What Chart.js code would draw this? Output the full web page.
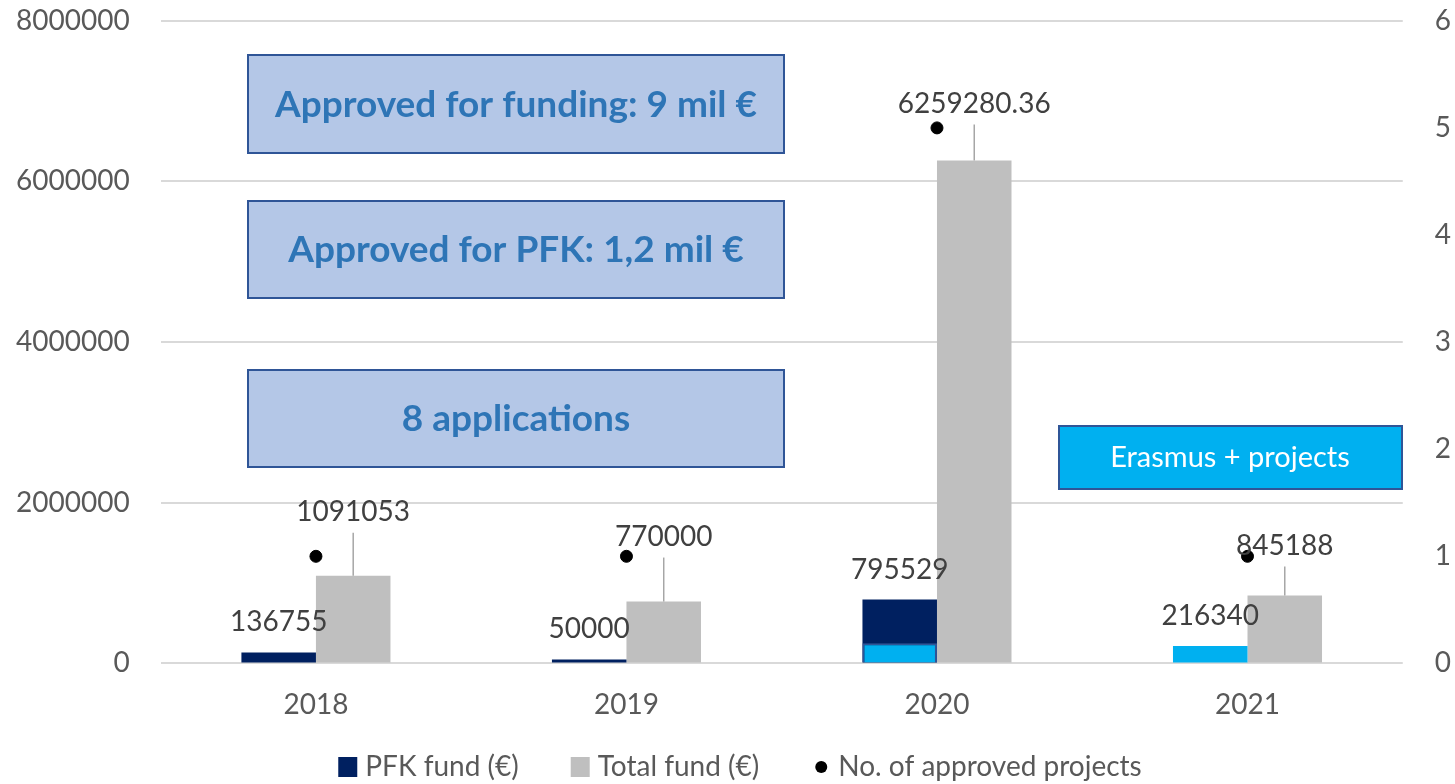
<!DOCTYPE html>
<html>
<head>
<meta charset="utf-8">
<script src="https://cdn.jsdelivr.net/npm/chart.js@4.4.1/dist/chart.umd.min.js"></script>
<style>
  html, body { margin: 0; padding: 0; background: #fff; }
  canvas { display: block; }
</style>
</head>
<body>
<canvas id="grafico" width="1455" height="784"></canvas>
<script>
const anios = ['2018', '2019', '2020', '2021'];
const fondoPFK = [136755, 50000, 795529, 216340];
const fondoTotal = [1091053, 770000, 6259280.36, 845188];
const erasmus = [null, null, 250000, null];
const proyectosAprobados = [1, 1, 5, 1];
const ticksIzq = [0, 2000000, 4000000, 6000000, 8000000];
const ticksDer = [0, 1, 2, 3, 4, 5, 6];

const NAVY = '#002060';
const CELESTE = '#00B0F0';
const GRIS = '#BFBFBF';
const FUENTE = 'Lato, "Open Sans", sans-serif';

// cuanto sube cada etiqueta del total (como en el original, colocadas a mano)
const subidaTotal = [64, 65, 57, 50];

const cuadros = [
    { texto: 'Approved for funding: 9 mil €', x0: 248, x1: 784, y0: 55, y1: 153 },
    { texto: 'Approved for PFK: 1,2 mil €', x0: 248, x1: 784, y0: 201, y1: 298 },
    { texto: '8 applications', x0: 248, x1: 784, y0: 370, y1: 467 }
];

const leyenda = [
    { texto: 'PFK fund (€)', color: NAVY, tipo: 'rect' },
    { texto: 'Total fund (€)', color: GRIS, tipo: 'rect' },
    { texto: 'No. of approved projects', color: '#000', tipo: 'punto' }
];

const etiquetasPlugin = {
    id: 'etiquetas',
    afterDatasetsDraw(chart) {
        const ctx = chart.ctx;
        ctx.save();
        ctx.font = '28px ' + FUENTE;
        ctx.fillStyle = '#404040';
        ctx.textAlign = 'center';
        ctx.textBaseline = 'middle';

        const metaPFK = chart.getDatasetMeta(1);
        metaPFK.data.forEach((bar, i) => {
            ctx.fillText(String(fondoPFK[i]), bar.x, bar.y - 30);
        });

        const metaTotal = chart.getDatasetMeta(2);
        metaTotal.data.forEach((bar, i) => {
            const yTexto = bar.y - subidaTotal[i];
            ctx.strokeStyle = '#A6A6A6';
            ctx.lineWidth = 1.5;
            ctx.beginPath();
            ctx.moveTo(bar.x, bar.y);
            ctx.lineTo(bar.x, yTexto + 21);
            ctx.stroke();
            ctx.fillText(String(fondoTotal[i]), bar.x, yTexto);
        });
        ctx.restore();
    },
    afterDraw(chart) {
        const ctx = chart.ctx;
        ctx.save();
        ctx.textAlign = 'center';
        ctx.textBaseline = 'middle';
        cuadros.forEach(c => {
            ctx.fillStyle = '#B4C7E7';
            ctx.fillRect(c.x0, c.y0, c.x1 - c.x0, c.y1 - c.y0);
            ctx.strokeStyle = '#2F5597';
            ctx.lineWidth = 2;
            ctx.strokeRect(c.x0, c.y0, c.x1 - c.x0, c.y1 - c.y0);
            ctx.fillStyle = '#2E75B6';
            ctx.font = 'bold 37px ' + FUENTE;
            ctx.fillText(c.texto, (c.x0 + c.x1) / 2, (c.y0 + c.y1) / 2 + 1);
        });
        // cuadro Erasmus
        ctx.fillStyle = CELESTE;
        ctx.fillRect(1059, 426, 343, 63);
        ctx.strokeStyle = '#2F5597';
        ctx.lineWidth = 2;
        ctx.strokeRect(1059, 426, 343, 63);
        ctx.fillStyle = '#fff';
        ctx.font = '29px ' + FUENTE;
        ctx.fillText('Erasmus + projects', 1230, 458);

        // leyenda propia
        ctx.font = '28px ' + FUENTE;
        ctx.textAlign = 'left';
        const anchos = leyenda.map(l => 27 + ctx.measureText(l.texto).width);
        const total = anchos.reduce((a, b) => a + b, 0) + 52 * (leyenda.length - 1);
        let x = 740 - total / 2;
        const yL = 767;
        leyenda.forEach((l, i) => {
            ctx.fillStyle = l.color;
            if (l.tipo === 'rect') {
                ctx.fillRect(x, yL - 10, 19, 20);
            } else {
                ctx.beginPath();
                ctx.arc(x + 10, yL, 6, 0, Math.PI * 2);
                ctx.fill();
            }
            ctx.fillStyle = '#595959';
            ctx.fillText(l.texto, x + 27, yL);
            x += anchos[i] + 52;
        });
        ctx.restore();
    }
};

const ctx = document.getElementById('grafico').getContext('2d');
new Chart(ctx, {
    data: {
        labels: anios,
        datasets: [
            {
                type: 'bar',
                label: 'Erasmus',
                data: erasmus,
                backgroundColor: CELESTE,
                borderColor: '#2F5597',
                borderWidth: 2,
                stack: 'pfk',
                yAxisID: 'y',
                order: 1,
                categoryPercentage: 0.48,
                barPercentage: 1
            },
            {
                type: 'bar',
                label: 'PFK fund (€)',
                data: fondoPFK,
                backgroundColor: fondoPFK.map((v, i) => i === 3 ? CELESTE : NAVY),
                stack: 'pfk',
                yAxisID: 'y',
                order: 2,
                categoryPercentage: 0.48,
                barPercentage: 1
            },
            {
                type: 'bar',
                label: 'Total fund (€)',
                data: fondoTotal,
                backgroundColor: GRIS,
                stack: 'total',
                yAxisID: 'y',
                order: 3,
                categoryPercentage: 0.48,
                barPercentage: 1
            },
            {
                type: 'line',
                label: 'No. of approved projects',
                data: proyectosAprobados,
                showLine: false,
                yAxisID: 'y1',
                pointRadius: 6,
                pointBackgroundColor: '#000',
                pointBorderColor: '#000',
                order: 0
            }
        ]
    },
    options: {
        responsive: false,
        animation: false,
        layout: { padding: { top: 0, left: 12, right: 0, bottom: 37 } },
        scales: {
            x: {
                grid: { display: false, drawTicks: false },
                border: { display: false },
                ticks: { color: '#595959', font: { family: FUENTE, size: 28 }, padding: 25 }
            },
            y: {
                position: 'left',
                stacked: false,
                min: 0,
                max: 8000000,
                afterBuildTicks: axis => { axis.ticks = ticksIzq.map(v => ({ value: v })); },
                grid: { color: '#D9D9D9', lineWidth: 2, drawTicks: true, tickLength: 27, tickColor: 'rgba(0,0,0,0)' },
                border: { display: false },
                ticks: {
                    color: '#595959', font: { family: FUENTE, size: 28 }, padding: 4,
                    callback: v => String(v)
                }
            },
            y1: {
                position: 'right',
                min: 0,
                max: 6,
                afterBuildTicks: axis => { axis.ticks = ticksDer.map(v => ({ value: v })); },
                grid: { display: false, drawTicks: true, tickLength: 28 },
                border: { display: false },
                ticks: { color: '#595959', font: { family: FUENTE, size: 28 }, padding: 4 }
            }
        },
        plugins: {
            tooltip: { enabled: false },
            legend: { display: false }
        }
    },
    plugins: [etiquetasPlugin]
});
</script>
</body>
</html>
